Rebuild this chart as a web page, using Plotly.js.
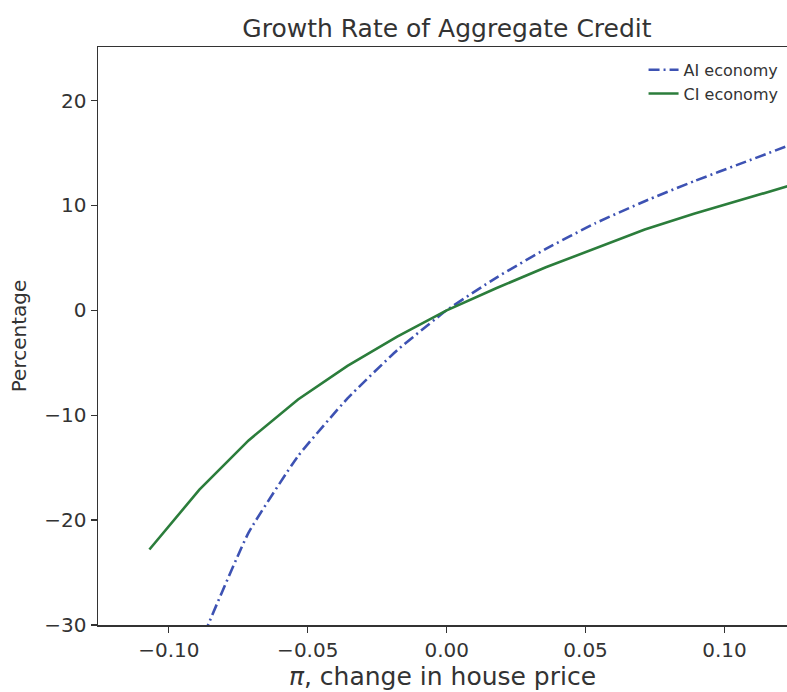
<!DOCTYPE html>
<html>
<head>
<meta charset="utf-8">
<script src="https://cdn.plot.ly/plotly-3.0.1.min.js"></script>
<style>html,body{margin:0;padding:0;background:#fff;}#chart{width:787px;height:692px;}</style>
</head>
<body>
<div id="chart"></div>
<script>
// Data
const piGrid = [-0.107, -0.089, -0.0713, -0.0535, -0.0357, -0.0178, 0.0, 0.0178, 0.0357, 0.0535, 0.0713, 0.089, 0.107, 0.125];
const aiEconomy = [-46.0, -32.0, -21.2, -13.9, -8.4, -3.8, 0.0, 3.1, 5.85, 8.3, 10.4, 12.3, 14.1, 15.9];
const ciEconomy = [-22.8, -17.1, -12.4, -8.5, -5.3, -2.5, 0.0, 2.1, 4.1, 5.9, 7.7, 9.2, 10.6, 12.0];
const seriesNames = ["AI economy", "CI economy"];
const xTicks = [-0.10, -0.05, 0.00, 0.05, 0.10];
const yTicks = [-30, -20, -10, 0, 10, 20];

const font = "DejaVu Sans, Liberation Sans, sans-serif";
const txt = "#333333";

const traces = [
  {x: piGrid, y: aiEconomy, name: seriesNames[0], mode: "lines",
   line: {color: "#3d52b3", width: 2.6, dash: "11px,4px,2px,4px", shape: "spline", smoothing: 0.4}},
  {x: piGrid, y: ciEconomy, name: seriesNames[1], mode: "lines",
   line: {color: "#2b7d3b", width: 2.6}}
];

const layout = {
  width: 787, height: 692,
  margin: {l: 98, r: 0, t: 47, b: 67, pad: 0},
  paper_bgcolor: "#ffffff", plot_bgcolor: "#ffffff",
  font: {family: font, color: txt, size: 20},
  title: {text: "Growth Rate of Aggregate Credit", font: {size: 25, color: txt, family: font},
          xref: "paper", x: 0.5065, xanchor: "center", yref: "container", y: 0.959, yanchor: "middle"},
  showlegend: true,
  legend: {x: 0.995, xanchor: "right", y: 0.99, yanchor: "top", bgcolor: "rgba(0,0,0,0)",
           font: {size: 16, color: txt, family: font}, tracegroupgap: 0, itemwidth: 30},
  xaxis: {
    range: [-0.1255, 0.1225], showgrid: false, zeroline: false,
    showline: true, linecolor: "#333333", linewidth: 1.5, mirror: true,
    ticks: "outside", ticklen: 6, tickwidth: 1.2, tickcolor: "#333333",
    tickvals: xTicks, tickformat: ".2f", tickfont: {size: 20, color: txt},
    title: {text: "<i>π</i>, change in house price", font: {size: 25, color: txt}, standoff: 5}
  },
  yaxis: {
    range: [-30, 25.1], showgrid: false, zeroline: false,
    showline: true, linecolor: "#333333", linewidth: 1.5, mirror: false,
    ticks: "outside", ticklen: 6, tickwidth: 1.2, tickcolor: "#333333",
    tickvals: yTicks, tickfont: {size: 20, color: txt},
    title: {text: "Percentage", font: {size: 20, color: txt}, standoff: 12}
  }
};

Plotly.newPlot("chart", traces, layout, {displayModeBar: false, staticPlot: true});
</script>
</body>
</html>
